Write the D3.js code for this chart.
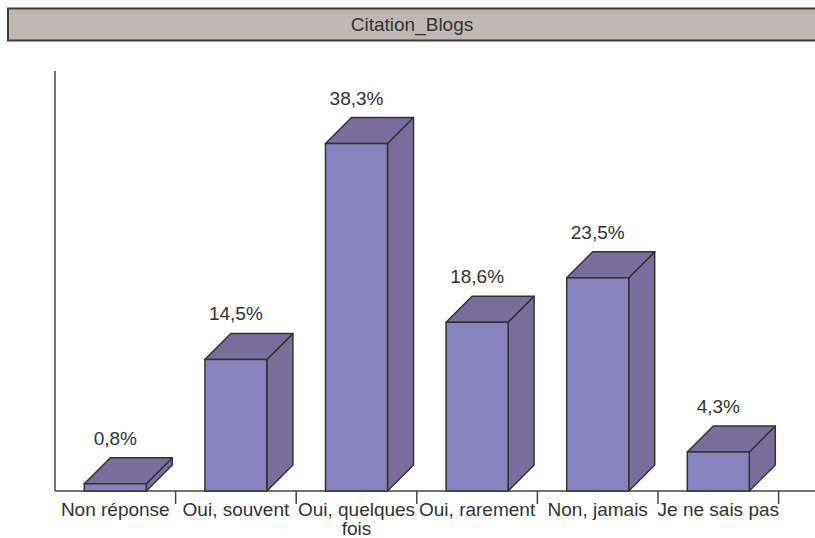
<!DOCTYPE html>
<html>
<head>
<meta charset="utf-8">
<script src="https://cdn.jsdelivr.net/npm/d3@7"></script>
<style>
  body { margin: 0; background: #fff; }
  svg { display: block; font-family: "Liberation Sans", Arial, sans-serif; }
</style>
</head>
<body>
<svg id="chart" width="815" height="538"></svg>
<script>
const title = "Citation_Blogs";
const categories = ["Non réponse", "Oui, souvent", "Oui, quelques fois", "Oui, rarement", "Non, jamais", "Je ne sais pas"];
const values = [0.8, 14.5, 38.3, 18.6, 23.5, 4.3];
const valueLabels = ["0,8%", "14,5%", "38,3%", "18,6%", "23,5%", "4,3%"];

const W = 815, H = 538;
const svg = d3.select("#chart");
const frontColor = "#8882bf";
const sideColor = "#7a6f9c";
const strokeColor = "#333333";
const textColor = "#333333";
const fs = 19;

// Title box
svg.append("rect").attr("x", 8).attr("y", 8.5).attr("width", 820).attr("height", 32)
  .attr("fill", "#c0b7b4").attr("stroke", "#3c3c3c").attr("stroke-width", 2);
svg.append("text").attr("x", 412).attr("y", 31).attr("text-anchor", "middle")
  .attr("font-size", fs).attr("fill", textColor).text(title);

const x0 = 55, baseY = 491;
const x = d3.scaleBand().domain(categories).range([x0, x0 + 120.6 * 6]).paddingInner(0).paddingOuter(0);
const y = d3.scaleLinear().domain([0, 46.3]).range([baseY, 71]);
const depth = 26;
const barW = 62;

// axes
svg.append("line").attr("x1", x0).attr("x2", x0).attr("y1", 71).attr("y2", baseY)
  .attr("stroke", "#444").attr("stroke-width", 1.5);
svg.append("line").attr("x1", x0).attr("x2", W).attr("y1", baseY).attr("y2", baseY)
  .attr("stroke", "#444").attr("stroke-width", 1.5);

// ticks at band right edges
svg.append("g").selectAll("line").data(categories).join("line")
  .attr("x1", d => x(d) + x.bandwidth()).attr("x2", d => x(d) + x.bandwidth())
  .attr("y1", baseY).attr("y2", baseY + 13)
  .attr("stroke", "#444").attr("stroke-width", 1.5);

// bars
const g = svg.append("g");
categories.forEach((c, i) => {
  const cx = x(c) + x.bandwidth() / 2;
  const xl = cx - barW / 2, xr = cx + barW / 2;
  const yt = y(values[i]);
  const bar = g.append("g");
  bar.append("path")
    .attr("d", `M${xr},${baseY} L${xr + depth},${baseY - depth} L${xr + depth},${yt - depth} L${xr},${yt} Z`)
    .attr("fill", sideColor).attr("stroke", strokeColor).attr("stroke-width", 1.5).attr("stroke-linejoin", "round");
  bar.append("path")
    .attr("d", `M${xl},${yt} L${xl + depth},${yt - depth} L${xr + depth},${yt - depth} L${xr},${yt} Z`)
    .attr("fill", sideColor).attr("stroke", strokeColor).attr("stroke-width", 1.5).attr("stroke-linejoin", "round");
  bar.append("rect").attr("x", xl).attr("y", yt).attr("width", barW).attr("height", baseY - yt)
    .attr("fill", frontColor).attr("stroke", strokeColor).attr("stroke-width", 1.5);
  svg.append("text").attr("x", cx).attr("y", yt - depth - 13)
    .attr("text-anchor", "middle").attr("font-size", fs).attr("fill", textColor)
    .text(valueLabels[i]);
});

// category labels with wrapping
categories.forEach((c) => {
  const cx = x(c) + x.bandwidth() / 2;
  const t = svg.append("text").attr("x", cx).attr("y", 516)
    .attr("text-anchor", "middle").attr("font-size", fs).attr("fill", textColor);
  const words = c.split(" ");
  let line = [];
  let tspan = t.append("tspan").attr("x", cx).attr("dy", 0);
  words.forEach(w => {
    line.push(w);
    tspan.text(line.join(" "));
    if (tspan.node().getComputedTextLength() > x.bandwidth() + 12 && line.length > 1) {
      line.pop();
      tspan.text(line.join(" "));
      line = [w];
      tspan = t.append("tspan").attr("x", cx).attr("dy", 19).text(w);
    }
  });
});
</script>
</body>
</html>
